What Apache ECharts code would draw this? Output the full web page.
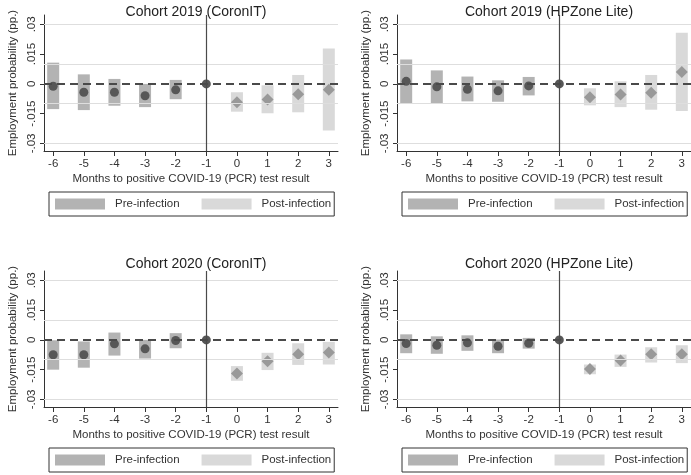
<!DOCTYPE html>
<html>
<head>
<meta charset="utf-8">
<script src="https://cdn.jsdelivr.net/npm/echarts@6/dist/echarts.min.js"></script>
<style>
html, body { margin: 0; padding: 0; background: #fff; }
#chart { width: 691px; height: 475px; }
</style>
</head>
<body>
<div id="chart"></div>
<script>
// months relative to positive test
const months = [-6, -5, -4, -3, -2, -1, 0, 1, 2, 3];
const yTicks = [-0.03, -0.015, 0, 0.015, 0.03];
const yTickLabels = ['-.03', '-.015', '0', '.015', '.03'];
const gridLines = [-0.03, -0.015, 0.015, 0.03];
const panelTitles = ['Cohort 2019 (CoronIT)', 'Cohort 2019 (HPZone Lite)', 'Cohort 2020 (CoronIT)', 'Cohort 2020 (HPZone Lite)'];

// point estimates, lower and upper CI (null at reference month -1)
const est2019C = [-0.0012, -0.0042, -0.0042, -0.006, -0.003, 0, -0.0092, -0.0078, -0.0052, -0.003];
const lo2019C  = [-0.0127, -0.0132, -0.011, -0.0117, -0.0077, null, -0.014, -0.0148, -0.0143, -0.0235];
const hi2019C  = [0.0107, 0.0048, 0.0025, 0.0, 0.002, null, -0.0042, -0.0007, 0.0045, 0.0178];

const est2019H = [0.0013, -0.0015, -0.0027, -0.0035, -0.001, 0, -0.0067, -0.0053, -0.0045, 0.006];
const lo2019H  = [-0.0097, -0.01, -0.0088, -0.009, -0.0058, null, -0.0108, -0.0117, -0.013, -0.0137];
const hi2019H  = [0.0123, 0.0068, 0.0037, 0.0018, 0.0035, null, -0.0022, 0.0013, 0.0045, 0.0257];

const est2020C = [-0.0075, -0.0075, -0.002, -0.0045, -0.0003, 0, -0.0169, -0.0107, -0.0072, -0.0064];
const lo2020C  = [-0.015, -0.014, -0.0079, -0.0094, -0.0042, null, -0.0206, -0.0152, -0.0126, -0.0124];
const hi2020C  = [-0.0002, -0.0008, 0.0037, 0.0, 0.0034, null, -0.0132, -0.0065, -0.0017, -0.001];

const est2020H = [-0.0018, -0.0027, -0.0015, -0.0032, -0.0017, 0, -0.0147, -0.0104, -0.0072, -0.0072];
const lo2020H  = [-0.0067, -0.007, -0.0055, -0.0067, -0.0044, null, -0.0173, -0.0136, -0.0114, -0.0117];
const hi2020H  = [0.0028, 0.0018, 0.0023, 0.0002, 0.001, null, -0.0124, -0.0074, -0.0037, -0.0027];

const panels = [
    { est: est2019C, lo: lo2019C, hi: hi2019C },
    { est: est2019H, lo: lo2019H, hi: hi2019H },
    { est: est2020C, lo: lo2020C, hi: hi2020C },
    { est: est2020H, lo: lo2020H, hi: hi2020H }
];

const preColor = '#b3b3b3';
const postColor = '#d9d9d9';
const font = 'Liberation Sans, Arial, sans-serif';

const layout = [
    { left: 44, top: 15, titleTop: 0 },
    { left: 397, top: 15, titleTop: 0 },
    { left: 44, top: 271, titleTop: 252 },
    { left: 397, top: 271, titleTop: 252 }
];

function ciBar(params, api) {
    const x = api.value(0);
    const top = api.coord([x, api.value(2)]);
    const bot = api.coord([x, api.value(1)]);
    return {
        type: 'rect',
        shape: { x: top[0] - 6, y: top[1], width: 12, height: bot[1] - top[1] },
        style: { fill: api.visual('color') }
    };
}

let grids = [], xAxes = [], yAxes = [], titles = [], legends = [], series = [];

panels.forEach(function (p, i) {
    const L = layout[i];
    grids.push({ left: L.left, top: L.top, width: 294, height: 136 });
    titles.push({
        text: panelTitles[i], left: L.left + 147, top: L.titleTop, textAlign: 'center',
        textStyle: { fontSize: 14, fontWeight: 'normal', color: '#222', fontFamily: font }
    });
    xAxes.push({
        gridIndex: i, type: 'value', min: -6.3, max: 3.3,
        name: 'Months to positive COVID-19 (PCR) test result',
        nameLocation: 'middle', nameGap: 22,
        nameTextStyle: { fontSize: 11.5, color: '#333', fontFamily: font },
        axisLine: { onZero: false, lineStyle: { color: '#333', width: 1 } },
        axisTick: { length: 5, customValues: months, lineStyle: { color: '#333' } },
        axisLabel: { customValues: months, margin: 7, fontSize: 11.5, color: '#333', fontFamily: font },
        splitLine: { show: false }
    });
    yAxes.push({
        gridIndex: i, type: 'value', min: -0.0338, max: 0.0347,
        name: 'Employment probability (pp.)',
        nameLocation: 'middle', nameGap: 25,
        nameTextStyle: { fontSize: 11.5, color: '#333', fontFamily: font },
        axisLine: { show: true, onZero: false, lineStyle: { color: '#333', width: 1 } },
        axisTick: { show: true, length: 4, customValues: yTicks, lineStyle: { color: '#333' } },
        axisLabel: {
            customValues: yTicks, rotate: 90, margin: 6, fontSize: 11.5, color: '#333', fontFamily: font,
            formatter: function (v) { return yTickLabels[yTicks.indexOf(v)] || ''; }
        },
        splitLine: { show: false }
    });
    legends.push({
        left: L.left + 5, top: L.top + 177,
        data: ['Pre-infection', 'Post-infection'],
        icon: 'rect', itemWidth: 50, itemHeight: 11, itemGap: 22,
        padding: [6, 3, 6, 6],
        borderColor: '#333', borderWidth: 1, borderRadius: 0,
        selectedMode: false,
        textStyle: { fontSize: 11.5, color: '#333', fontFamily: font, padding: [0, 0, 0, 5] }
    });

    const preBars = [], postBars = [], prePts = [], postPts = [];
    months.forEach(function (m, k) {
        if (p.lo[k] !== null) {
            (m < 0 ? preBars : postBars).push([m, p.lo[k], p.hi[k]]);
        }
        (m < 0 ? prePts : postPts).push([m, p.est[k]]);
    });

    // light reference lines at +-.015, +-.03, dashed zero line and vertical line at -1
    series.push({
        type: 'scatter', xAxisIndex: i, yAxisIndex: i, data: [], z: 1, silent: true,
        markLine: {
            silent: true, symbol: 'none', label: { show: false },
            lineStyle: { color: '#dedede', width: 1, type: 'solid' },
            data: gridLines.map(function (v) { return { yAxis: v }; })
        }
    });
    series.push({
        name: 'Pre-infection', type: 'custom', xAxisIndex: i, yAxisIndex: i, z: 2,
        itemStyle: { color: preColor }, renderItem: ciBar, encode: { x: 0, y: [1, 2] }, data: preBars
    });
    series.push({
        name: 'Post-infection', type: 'custom', xAxisIndex: i, yAxisIndex: i, z: 2,
        itemStyle: { color: postColor }, renderItem: ciBar, encode: { x: 0, y: [1, 2] }, data: postBars
    });
    series.push({
        type: 'scatter', xAxisIndex: i, yAxisIndex: i, data: [], z: 3, silent: true,
        markLine: {
            silent: true, symbol: 'none', label: { show: false },
            data: [
                { yAxis: 0, lineStyle: { color: '#4a4a4a', width: 2, type: [8, 5] } },
                { xAxis: -1, lineStyle: { color: '#4a4a4a', width: 1.2, type: 'solid' } }
            ]
        }
    });
    series.push({
        name: 'est-pre', type: 'scatter', xAxisIndex: i, yAxisIndex: i, z: 4,
        symbol: 'circle', symbolSize: 9, itemStyle: { color: '#575757', opacity: 1 }, data: prePts
    });
    series.push({
        name: 'est-post', type: 'scatter', xAxisIndex: i, yAxisIndex: i, z: 4,
        symbol: 'diamond', symbolSize: 12, itemStyle: { color: '#999999', opacity: 1 }, data: postPts
    });
});

const chart = echarts.init(document.getElementById('chart'));
chart.setOption({
    animation: false,
    backgroundColor: '#fff',
    title: titles,
    grid: grids,
    xAxis: xAxes,
    yAxis: yAxes,
    legend: legends,
    series: series
});
</script>
</body>
</html>
